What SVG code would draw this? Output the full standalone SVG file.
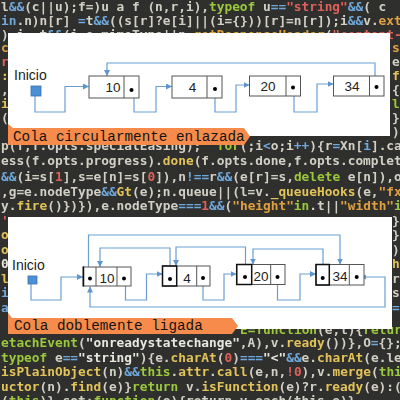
<svg xmlns="http://www.w3.org/2000/svg" width="400" height="400" viewBox="0 0 400 400">
<defs>
<style>
.cd{font-family:"DejaVu Sans Mono","Liberation Mono",monospace;font-size:12.8px;font-weight:bold;fill:#d2d0c4;white-space:pre}
.b{fill:#6fa8dc}.g{fill:#9cc83c}.o{fill:#e0a040}.y{fill:#e2c35a}.r{fill:#e0605a}.w{fill:#e8e8e0}
.panel{fill:#ffffff}
.tag{fill:#f68b4c}
.tagt{font-family:"Liberation Mono","DejaVu Sans Mono",monospace;font-size:14.3px;fill:#151515;white-space:pre}
.lbl{font-family:"Liberation Sans","DejaVu Sans",sans-serif;font-size:14px;fill:#222}
.num{font-family:"Liberation Sans","DejaVu Sans",sans-serif;font-size:13.5px;fill:#222;text-anchor:middle}
.cell{fill:#fff;stroke:#555;stroke-width:1}
.head{fill:none;stroke:#111;stroke-width:1.5}
.dot{fill:#000}
.sq{fill:#4b8fd6;stroke:#3a70ad;stroke-width:0.8}
.cn{fill:none;stroke:#6b9fd4;stroke-width:1.2}
</style>
<marker id="ah" markerWidth="6" markerHeight="6" refX="6" refY="3" orient="auto" markerUnits="userSpaceOnUse">
<path d="M0,0 L6,3 L0,6 z" fill="#5e95cf"/>
</marker>
<marker id="ahs" markerWidth="5" markerHeight="5" refX="5" refY="2.5" orient="auto-start-reverse" markerUnits="userSpaceOnUse">
<path d="M0,0 L5,2.5 L0,5 z" fill="#5e95cf"/>
</marker>
<filter id="soft" x="0" y="0" width="1" height="1"><feGaussianBlur stdDeviation="0.55"/></filter>
</defs>

<rect width="400" height="400" fill="#2f2f2d"/>
<g id="code" filter="url(#soft)">
<text class="cd" x="1" y="11">l<tspan class="b">&amp;&amp;</tspan>(c||u);f=)u a f (n,r,i),<tspan class="g">typeof</tspan> u<tspan class="b">==</tspan><tspan class="r">"string"</tspan><tspan class="b">&amp;&amp;</tspan>( c</text>
<text class="cd" x="1" y="25"><tspan class="b">in</tspan>.n)n[r] <tspan class="b">=</tspan>t<tspan class="b">&amp;&amp;</tspan>((s[r]?e[i]||(i={}))[r]=n[r]);i<tspan class="b">&amp;&amp;</tspan>v.<tspan class="o">extend</tspan></text>
<text class="cd" x="1" y="39">) i  t<tspan class="b">&amp;&amp;</tspan>(i.e.mimeType||n.<tspan class="o">getResponseHeader</tspan>(<tspan class="r">"content-t</tspan></text>
<text class="cd" x="1" y="52"><tspan class="o">c</tspan></text>
<text class="cd" x="392" y="52"><tspan class="o">s</tspan></text>
<text class="cd" x="1" y="66"><tspan class="r">r</tspan></text>
<text class="cd" x="392" y="66">e</text>
<text class="cd" x="1" y="80"><tspan class="y">:</tspan></text>
<text class="cd" x="392" y="80"><tspan class="y">f</tspan></text>
<text class="cd" x="1" y="94">,</text>
<text class="cd" x="392" y="94">{</text>
<text class="cd" x="1" y="108"><tspan class="y">i</tspan></text>
<text class="cd" x="392" y="108"><tspan class="g">l</tspan></text>
<text class="cd" x="1" y="122">(</text>
<text class="cd" x="392" y="122">}</text>
<text class="cd" x="392" y="136">)</text>
<text class="cd" x="1" y="150">p(f,f.opts.specialEasing);  <tspan class="g">for</tspan>(;i<tspan class="b">&lt;</tspan>o;i<tspan class="b">++</tspan>){r<tspan class="b">=</tspan>Xn[<tspan class="b">i</tspan>].ca</text>
<text class="cd" x="1" y="165">ess(f.opts.progress).<tspan class="y">done</tspan>(f.opts.done,f.opts.complete</text>
<text class="cd" x="1" y="181"><tspan class="b">&amp;&amp;</tspan>(i=s[<tspan class="r">1</tspan>],s=e[n]=s[<tspan class="r">0</tspan>]),n<tspan class="b">!==</tspan>r<tspan class="b">&amp;&amp;</tspan>(e[r]=s,<tspan class="g">delete</tspan> e[n]),o=</text>
<text class="cd" x="1" y="196">,g=e.nodeType<tspan class="b">&amp;&amp;</tspan><tspan class="y">Gt</tspan>(e);n.queue||(l=v.<tspan class="y">_queueHooks</tspan>(e,<tspan class="o">"fx"</tspan></text>
<text class="cd" x="1" y="210">y.<tspan class="y">fire</tspan>()})}),e.nodeType<tspan class="b">===</tspan><tspan class="r">1</tspan><tspan class="b">&amp;&amp;</tspan>(<tspan class="o">"height"</tspan><tspan class="g">in</tspan>.t||<tspan class="o">"width"</tspan><tspan class="g">in</tspan></text>
<text class="cd" x="1" y="225"><tspan class="r">'</tspan></text>
<text class="cd" x="392" y="225">}</text>
<text class="cd" x="1" y="239"><tspan class="y">o</tspan></text>
<text class="cd" x="392" y="239">}</text>
<text class="cd" x="1" y="254"><tspan class="y">o</tspan></text>
<text class="cd" x="392" y="254">)</text>
<text class="cd" x="1" y="268"><tspan class="w">0</tspan></text>
<text class="cd" x="392" y="268"><tspan class="y">h</tspan></text>
<text class="cd" x="1" y="283"><tspan class="y">l</tspan></text>
<text class="cd" x="392" y="283">r</text>
<text class="cd" x="1" y="297"><tspan class="b">i</tspan></text>
<text class="cd" x="392" y="297">s</text>
<text class="cd" x="1" y="312"><tspan class="b">a</tspan></text>
<text class="cd" x="392" y="312"><tspan class="b">=</tspan></text>
<text class="cd" x="240" y="334"><tspan class="g">E=function</tspan>(e,t){<tspan class="g">retur</tspan></text>
<text class="cd" x="1" y="347"><tspan class="g">etachEvent</tspan>(<tspan class="w">"onreadystatechange"</tspan>,A),v.<tspan class="y">ready</tspan>())},O<tspan class="b">=</tspan>{};</text>
<text class="cd" x="1" y="362"><tspan class="g">typeof</tspan> e<tspan class="b">==</tspan><tspan class="w">"string"</tspan>){e.<tspan class="y">charAt</tspan>(<tspan class="r">0</tspan>)<tspan class="b">===</tspan><tspan class="w">"&lt;"</tspan><tspan class="b">&amp;&amp;</tspan>e.<tspan class="y">charAt</tspan>(e.le</text>
<text class="cd" x="1" y="376"><tspan class="y">isPlainObject</tspan>(n)<tspan class="b">&amp;&amp;</tspan><tspan class="g">this</tspan>.<tspan class="y">attr</tspan>.<tspan class="y">call</tspan>(e,n,<tspan class="r">!0</tspan>),v.<tspan class="y">merge</tspan>(<tspan class="g">thi</tspan></text>
<text class="cd" x="1" y="391"><tspan class="y">uctor</tspan>(n).<tspan class="y">find</tspan>(e)}<tspan class="g">return</tspan> v.<tspan class="y">isFunction</tspan>(e)?r.<tspan class="y">ready</tspan>(e):(</text>
<text class="cd" x="1" y="405">(<tspan class="g">this</tspan>)},set:<tspan class="g">function</tspan>(e){return v.each(this,e)}</text>
</g>

<!-- Top panel: circular list -->
<rect class="panel" x="8" y="33" width="382" height="103"/>
<g id="top-connectors">
<path class="cn" d="M35,96 V112 H65 V86.5 H89" marker-end="url(#ah)"/>
<path class="cn" d="M134,98 V112 H156 V86.5 H172" marker-end="url(#ah)"/>
<path class="cn" d="M215,98 V112 H236 V85 H249.5" marker-end="url(#ah)"/>
<path class="cn" d="M294,96 V112 H317 V84 H333.5" marker-end="url(#ah)"/>
<path class="cn" d="M375,76 V63 H107 V76" marker-end="url(#ah)"/>
</g>
<g id="top-inicio">
<text class="lbl" x="14" y="80">Inicio</text>
<rect class="sq" x="31" y="86" width="10" height="10"/>
</g>
<g id="top-n10">
<rect class="cell" x="89" y="76" width="50" height="22"/>
<line x1="124" y1="76" x2="124" y2="98" stroke="#555"/>
<text class="num" x="113" y="92">10</text>
<circle class="dot" cx="131.5" cy="90" r="2"/>
</g>
<g id="top-n4">
<rect class="cell" x="172" y="76" width="50" height="22"/>
<line x1="207" y1="76" x2="207" y2="98" stroke="#555"/>
<text class="num" x="192.5" y="92">4</text>
<circle class="dot" cx="215" cy="89" r="2"/>
</g>
<g id="top-n20">
<rect class="cell" x="249.5" y="76" width="51" height="20"/>
<line x1="286" y1="76" x2="286" y2="96" stroke="#555"/>
<text class="num" x="268" y="91">20</text>
<circle class="dot" cx="293" cy="87.5" r="2"/>
</g>
<g id="top-n34">
<rect class="cell" x="333.5" y="76" width="50.5" height="20"/>
<line x1="369.5" y1="76" x2="369.5" y2="96" stroke="#555"/>
<text class="num" x="352" y="91">34</text>
<circle class="dot" cx="376.5" cy="87" r="2"/>
</g>
<g id="tag-top">
<path class="tag" d="M8,124 L13,128 L244,128 L250,136.5 L244,145 L8,145 Z"/>
<text class="tagt" x="13" y="141">Cola circularmente enlazada</text>
</g>

<!-- Bottom panel: doubly linked list -->
<rect class="panel" x="8" y="217" width="384" height="112"/>
<g id="bottom-connectors">
<path class="cn" d="M31,284 V300 H61 V277 H83" marker-end="url(#ah)"/>
<path class="cn" d="M125.5,286 V300 H146.5 V274 H162.5" marker-end="url(#ah)"/>
<path class="cn" d="M203,286 V300 H224 V274 H236.5" marker-end="url(#ah)"/>
<path class="cn" d="M277.5,284.5 V300 H300 V274 H316" marker-end="url(#ah)"/>
<path class="cn" d="M361,277 H385 V307 H90 V286.5" marker-start="url(#ahs)" marker-end="url(#ah)"/>
<path class="cn" d="M88.5,267 V235 H340 V264.5" marker-end="url(#ah)"/>
<path class="cn" d="M170,266 V248 H100 V267" marker-end="url(#ah)"/>
<path class="cn" d="M245.5,264.5 V247 H176 V266" marker-end="url(#ah)"/>
<path class="cn" d="M323,264.5 V249 H253 V264.5" marker-end="url(#ah)"/>
</g>
<g id="bottom-inicio">
<text class="lbl" x="12" y="270">Inicio</text>
<rect class="sq" x="28" y="276" width="9" height="8"/>
</g>
<g id="bot-n10">
<rect class="cell" x="83" y="267" width="48" height="19"/>
<line x1="96" y1="267" x2="96" y2="286" stroke="#555"/>
<line x1="117" y1="267" x2="117" y2="286" stroke="#555"/>
<line x1="83.5" y1="266.5" x2="83.5" y2="286.5" stroke="#111" stroke-width="1.5"/>
<text class="num" x="107" y="283">10</text>
<circle class="dot" cx="90" cy="278.5" r="2"/>
<circle class="dot" cx="124" cy="278.5" r="2"/>
</g>
<g id="bot-n4">
<rect class="cell" x="162.5" y="266" width="47.5" height="20"/>
<line x1="196.7" y1="266" x2="196.7" y2="286" stroke="#555"/>
<rect class="head" x="162.5" y="266" width="14.2" height="20"/>
<text class="num" x="187" y="283">4</text>
<circle class="dot" cx="170" cy="279" r="2"/>
<circle class="dot" cx="203" cy="278" r="2"/>
</g>
<g id="bot-n20">
<rect class="cell" x="236.7" y="264.5" width="48.3" height="20"/>
<line x1="270.7" y1="264.5" x2="270.7" y2="284.5" stroke="#555"/>
<rect class="head" x="236.7" y="264.5" width="15" height="20"/>
<text class="num" x="261" y="281">20</text>
<circle class="dot" cx="245" cy="277" r="2"/>
<circle class="dot" cx="277.5" cy="277" r="2"/>
</g>
<g id="bot-n34">
<rect class="cell" x="316" y="264.5" width="48" height="20.5"/>
<line x1="349.3" y1="264.5" x2="349.3" y2="285" stroke="#555"/>
<rect class="head" x="316" y="264.5" width="13.3" height="20.5"/>
<text class="num" x="340" y="281">34</text>
<circle class="dot" cx="322.7" cy="278" r="2"/>
<circle class="dot" cx="356.7" cy="277" r="2"/>
</g>
<g id="tag-bottom">
<path class="tag" d="M8,313 L12,318 L232,318 L238,326 L232,334 L8,334 Z"/>
<text class="tagt" x="14" y="330">Cola doblemente ligada</text>
</g>
</svg>
